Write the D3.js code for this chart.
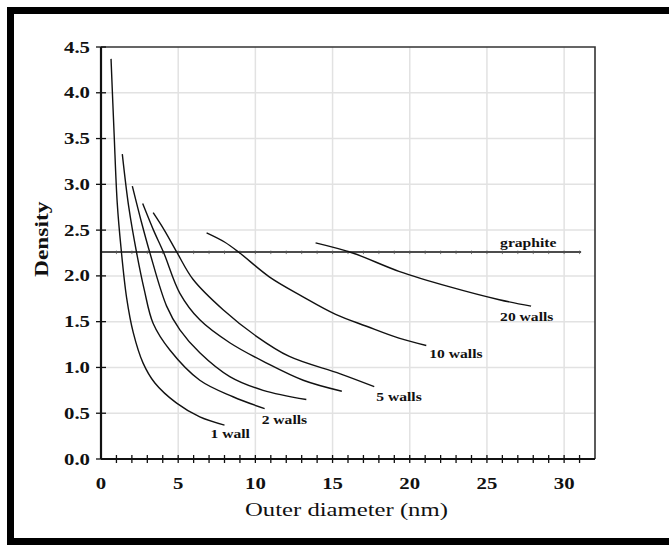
<!DOCTYPE html>
<html>
   <head>
      <script src="https://d3js.org/d3.v7.min.js"></script>
      <style>
         body { margin: 0; background: #fff; }
         .curve { fill: none; stroke: #111; stroke-width: 1.4px; }
         .grid line { stroke: #e2e2e2; stroke-width: 1.5px; }
         text { font-family: "Liberation Serif", "DejaVu Serif", serif; fill: #111; }
      </style>
   </head>
<body>
    <div id="div"></div>
    <script>
    // outer diameter (nm) and density for each wall count
    var wall1D   = [0.65, 0.85, 1.05, 1.3, 1.66, 2.09, 2.72, 3.49, 4.9, 6.4, 8.0];
    var wall1Rho = [4.37, 3.55, 2.8, 2.3, 1.76, 1.38, 1.05, 0.83, 0.61, 0.46, 0.37];
    var wall2D   = [1.38, 1.8, 2.31, 2.8, 3.38, 4.46, 6.4, 8.55, 10.6];
    var wall2Rho = [3.33, 2.75, 2.25, 1.85, 1.48, 1.19, 0.86, 0.68, 0.55];
    var wall3D   = [2.03, 2.6, 3.17, 4.25, 5.11, 6.4, 8.34, 10.5, 13.3];
    var wall3Rho = [2.98, 2.6, 2.25, 1.67, 1.41, 1.16, 0.90, 0.75, 0.65];
    var wall4D   = [2.7, 3.4, 4.07, 5.11, 6.4, 8.34, 10.7, 13.1, 15.6];
    var wall4Rho = [2.79, 2.5, 2.25, 1.81, 1.52, 1.27, 1.05, 0.86, 0.74];
    var wall5D   = [3.38, 4.1, 4.94, 5.97, 7.91, 10.07, 12.2, 15.5, 17.7];
    var wall5Rho = [2.69, 2.5, 2.25, 1.96, 1.63, 1.34, 1.12, 0.93, 0.79];
    var wall10D   = [6.84, 8.0, 8.99, 10.9, 13.0, 15.2, 17.2, 19.3, 21.07];
    var wall10Rho = [2.47, 2.37, 2.25, 1.99, 1.78, 1.58, 1.45, 1.32, 1.24];
    var wall20D   = [13.9, 16.3, 19.3, 22.6, 25.8, 27.86];
    var wall20Rho = [2.36, 2.25, 2.05, 1.88, 1.74, 1.67];

    var graphiteRho = 2.26;
    var graphiteEnd = 31.1;

    var xTicks = [0, 5, 10, 15, 20, 25, 30];
    var yTicks = [0, 0.5, 1, 1.5, 2, 2.5, 3, 3.5, 4, 4.5];

    // curve labels, placed from the end point of each curve (dx/dy in px)
    var labels = [
        {text: "1 wall",   d: 8.0,   rho: 0.37, dx: -14, dy: 13},
        {text: "2 walls",  d: 10.6,  rho: 0.55, dx: -3,  dy: 15},
        {text: "5 walls",  d: 17.7,  rho: 0.79, dx: 2,   dy: 14},
        {text: "10 walls", d: 21.07, rho: 1.24, dx: 3,   dy: 13},
        {text: "20 walls", d: 27.86, rho: 1.67, dx: -31, dy: 15}
    ];

    var series = [
        [wall1D, wall1Rho], [wall2D, wall2Rho], [wall3D, wall3Rho], [wall4D, wall4Rho],
        [wall5D, wall5Rho], [wall10D, wall10Rho], [wall20D, wall20Rho]
    ].map(function(s) {
        return s[0].map(function(d, i) { return {d: d, rho: s[1][i]}; });
    });

    var W = 669, H = 548;
    var margin = {top: 47, right: 74, bottom: 89, left: 101};
    var width = W - margin.left - margin.right,
        height = H - margin.top - margin.bottom;
    var SX = 1.3; // the source lettering is wide

    var x = d3.scaleLinear().domain([0, 32]).range([0, width]);
    var y = d3.scaleLinear().domain([0, 4.5]).range([height, 0]);

    var svg = d3.select("#div").append("svg")
        .attr("width", W)
        .attr("height", H);

    svg.append("rect")
        .attr("width", W).attr("height", H)
        .attr("fill", "#fff");

    // black outer border
    svg.append("rect")
        .attr("x", 10.5).attr("y", 10.5)
        .attr("width", W + 20).attr("height", H - 17)
        .attr("fill", "none")
        .attr("stroke", "#000")
        .attr("stroke-width", 7);

    var g = svg.append("g")
        .attr("transform", "translate(" + margin.left + "," + margin.top + ")");

    function place(px, py, extra) {
        return "translate(" + px + "," + py + ")" + (extra || "") + " scale(" + SX + ",1)";
    }

    // grid
    var grid = g.append("g").attr("class", "grid");
    grid.selectAll(".gx").data(xTicks.filter(function(t) { return t > 0; }))
        .enter().append("line")
        .attr("x1", x).attr("x2", x)
        .attr("y1", 0).attr("y2", height);
    grid.selectAll(".gy").data(yTicks.filter(function(t) { return t > 0 && t < 4.5; }))
        .enter().append("line")
        .attr("x1", 0).attr("x2", width)
        .attr("y1", y).attr("y2", y);

    // top / right frame
    g.append("path")
        .attr("d", "M0,0H" + width + "V" + height)
        .attr("fill", "none")
        .attr("stroke", "#333")
        .attr("stroke-width", 1.6);

    // x axis with minor ticks every unit
    var xAxis = g.append("g")
        .attr("transform", "translate(0," + height + ")");
    xAxis.selectAll(".minor").data(d3.range(1, 32))
        .enter().append("line")
        .attr("x1", x).attr("x2", x)
        .attr("y1", -4).attr("y2", 4)
        .attr("stroke", "#111").attr("stroke-width", 1.3);
    xAxis.append("line")
        .attr("x1", 0).attr("x2", width)
        .attr("stroke", "#111").attr("stroke-width", 2.2);
    xAxis.selectAll(".lab").data(xTicks)
        .enter().append("text")
        .attr("transform", function(d) { return place(x(d), 30); })
        .attr("text-anchor", "middle")
        .attr("font-size", "16px").attr("font-weight", "bold")
        .text(function(d) { return d; });

    // y axis
    var yAxis = g.append("g");
    yAxis.selectAll(".tick").data(yTicks)
        .enter().append("line")
        .attr("x1", -5).attr("x2", 5)
        .attr("y1", y).attr("y2", y)
        .attr("stroke", "#111").attr("stroke-width", 1.3);
    yAxis.append("line")
        .attr("y1", 0).attr("y2", height)
        .attr("stroke", "#111").attr("stroke-width", 2.2);
    yAxis.selectAll(".lab").data(yTicks)
        .enter().append("text")
        .attr("transform", function(d) { return place(-11, y(d) + 5.5); })
        .attr("text-anchor", "end")
        .attr("font-size", "16px").attr("font-weight", "bold")
        .text(function(d) { return d.toFixed(1); });

    // axis titles
    g.append("text")
        .attr("transform", place(-53, y(2.4), " rotate(-90)"))
        .attr("text-anchor", "middle")
        .attr("font-size", "18px").attr("font-weight", "bold")
        .text("Density");
    g.append("text")
        .attr("transform", place(x(15.9), height + 57))
        .attr("text-anchor", "middle")
        .attr("font-size", "19px")
        .text("Outer diameter (nm)");

    // graphite reference line with small ticks
    var gr = g.append("g");
    gr.append("line")
        .attr("x1", 0).attr("x2", x(graphiteEnd))
        .attr("y1", y(graphiteRho)).attr("y2", y(graphiteRho))
        .attr("stroke", "#111").attr("stroke-width", 1.5);
    gr.selectAll(".gt").data(d3.range(1, 32))
        .enter().append("line")
        .attr("x1", x).attr("x2", x)
        .attr("y1", y(graphiteRho) - 1.5).attr("y2", y(graphiteRho) + 2)
        .attr("stroke", "#555").attr("stroke-width", 0.8);
    gr.append("text")
        .attr("transform", place(x(graphiteEnd) - 81, y(graphiteRho) - 5))
        .attr("font-size", "12px").attr("font-weight", "bold")
        .text("graphite");

    var line = d3.line()
        .x(function(d) { return x(d.d); })
        .y(function(d) { return y(d.rho); })
        .curve(d3.curveCatmullRom.alpha(0.5));

    g.selectAll(".curve").data(series)
        .enter().append("path")
        .attr("class", "curve")
        .attr("d", line);

    g.selectAll(".wl").data(labels)
        .enter().append("text")
        .attr("transform", function(d) { return place(x(d.d) + d.dx, y(d.rho) + d.dy); })
        .attr("font-size", "12px").attr("font-weight", "bold")
        .text(function(d) { return d.text; });
    </script>
</body>
</html>
